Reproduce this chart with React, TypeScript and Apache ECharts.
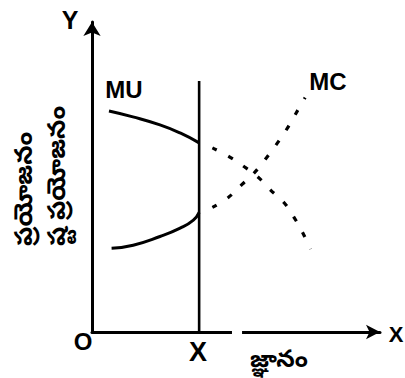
import React, { useEffect, useRef } from "react";
import * as echarts from "echarts";

// Data (x: 0..100 along the quantity axis, y: 0..100 along the value axis)
const muSolid: number[][] = [[5.9, 71.3], [14.2, 69.4], [23.6, 66.8], [30.6, 64.2], [37.2, 61.0]];
const muDotted: number[][] = [[41.8, 59.4], [47.7, 56.5], [52.9, 53.3], [57.7, 49.9], [62.0, 45.8], [66.7, 41.7], [70.2, 36.9], [73.3, 31.8], [75.9, 26.7]];
const mcSolid: number[][] = [[6.8, 27.0], [14.3, 28.0], [23.6, 30.8], [30.6, 33.5], [35.2, 36.1], [37.2, 38.6]];
const mcDotted: number[][] = [[41.8, 40.2], [47.3, 43.4], [52.1, 47.6], [56.4, 51.4], [60.4, 56.0], [64.1, 60.6], [67.6, 65.4], [70.8, 70.5], [74.0, 75.6]];
const xMarkLine: number[][] = [[37.2, 0], [37.2, 81]];
const xAxisGap: number[][] = [[48.6, 0], [52.1, 0]];

const curveLabels = ["MU", "MC"];
const axisLetters = ["Y", "X", "O", "X"];
const xTitle = "జ్ఞానం";
const yTitleLines = ["ప్రయోజనం", "ష్ట ప్రయోజనం"];

const FONT = "Liberation Sans, Arial, sans-serif";
const TFONT = "Noto Sans, Noto Sans Telugu, sans-serif";

export default function App() {
  const ref = useRef<HTMLDivElement>(null);
  useEffect(() => {
    if (!ref.current) return;
    const chart = echarts.init(ref.current, null, { renderer: "svg" });
    const solid = { type: "line", smooth: true, showSymbol: false, symbol: "none", lineStyle: { color: "#000", width: 3 }, z: 3 };
    const dotted = { type: "line", smooth: true, showSymbol: false, symbol: "none", lineStyle: { color: "#000", width: 3.2, type: [5, 13] }, z: 3 };
    const txt = (x: number, y: number, text: string, font: string, extra: any = {}) => ({
      type: "text", x, y, ...extra,
      style: { text, font, fill: "#000", align: "center", verticalAlign: "middle", ...(extra.style || {}) },
    });
    chart.setOption({
      animation: false,
      backgroundColor: "#fff",
      grid: { left: 92, right: 25, top: 22, bottom: 46 },
      xAxis: {
        type: "value", min: 0, max: 100,
        axisLine: { show: true, lineStyle: { color: "#000", width: 3 }, symbol: ["none", "arrow"], symbolSize: [11, 14] },
        axisTick: { show: false }, axisLabel: { show: false }, splitLine: { show: false },
      },
      yAxis: {
        type: "value", min: 0, max: 100,
        axisLine: { show: true, lineStyle: { color: "#000", width: 3 }, symbol: ["none", "arrow"], symbolSize: [13, 14] },
        axisTick: { show: false }, axisLabel: { show: false }, splitLine: { show: false },
      },
      series: [
        { ...solid, name: "MU", data: muSolid },
        { ...dotted, name: "MU extension", data: muDotted },
        { ...solid, name: "MC", data: mcSolid },
        { ...dotted, name: "MC extension", data: mcDotted },
        { type: "line", symbol: "none", data: xMarkLine, lineStyle: { color: "#000", width: 2.6 }, z: 3 },
        { type: "line", symbol: "none", data: xAxisGap, lineStyle: { color: "#fff", width: 6 }, z: 4 },
      ],
      graphic: [
        txt(70, 20, axisLetters[0], `bold 25px ${FONT}`),
        txt(396, 334, axisLetters[1], `bold 22px ${FONT}`),
        txt(83, 341, axisLetters[2], `bold 24px ${FONT}`),
        txt(198, 352, axisLetters[3], `bold 27px ${FONT}`),
        txt(124, 89, curveLabels[0], `bold 24px ${FONT}`),
        txt(328, 81, curveLabels[1], `bold 24px ${FONT}`),
        txt(279, 357, xTitle, `bold 24px ${TFONT}`),
        txt(22, 246, yTitleLines[0], `bold 25px ${TFONT}`, { rotation: Math.PI / 2, style: { align: "left" } }),
        txt(55, 246, yTitleLines[1], `bold 25px ${TFONT}`, { rotation: Math.PI / 2, style: { align: "left" } }),
      ],
    });
    return () => chart.dispose();
  }, []);
  return <div ref={ref} style={{ width: 405, height: 378, position: "absolute", left: 0, top: 0 }} />;
}
